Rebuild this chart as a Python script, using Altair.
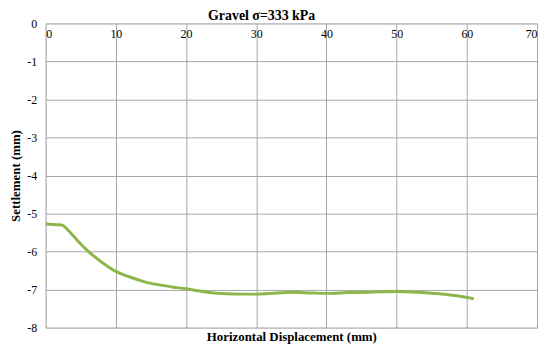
import altair as alt
import pandas as pd

# Horizontal displacement (mm) and settlement (mm)
displacement = [0, 1, 2.3, 3, 4, 5, 6, 7, 8, 9, 10, 12, 14, 16, 18, 20, 22, 24, 26, 28,
                30, 32, 35, 38, 40, 43, 46, 50, 53, 56, 58, 61]
settlement = [-5.27, -5.29, -5.30, -5.40, -5.60, -5.80, -5.98, -6.14, -6.28, -6.41,
              -6.52, -6.67, -6.79, -6.87, -6.93, -6.98, -7.04, -7.09, -7.11, -7.12,
              -7.12, -7.10, -7.07, -7.09, -7.10, -7.08, -7.07, -7.05, -7.07, -7.11,
              -7.15, -7.24]
x_ticks = [0, 10, 20, 30, 40, 50, 60, 70]
y_ticks = [-8, -7, -6, -5, -4, -3, -2, -1, 0]

df = pd.DataFrame({"x": displacement, "y": settlement})

SERIF = "'Liberation Serif', 'Times New Roman', Times, 'DejaVu Serif', serif"
GRID = "#a6a6a6"
GREEN = "#8DB64A"

x_scale = alt.Scale(domain=[0, 70], nice=False, zero=False)
y_scale = alt.Scale(domain=[-8, 0], nice=False, zero=False)

y_enc = alt.Y(
    "y:Q", scale=y_scale,
    axis=alt.Axis(values=y_ticks, title="Settlement (mm)", labelExpr="'' + datum.value",
                  grid=True, gridColor=GRID, gridOpacity=1, domain=False, ticks=False,
                  labelPadding=9, titlePadding=4, labelFont=SERIF, labelFontSize=12,
                  labelColor="black", titleFont=SERIF, titleFontSize=13,
                  titleFontWeight="bold", titleColor="black"),
)

line = alt.Chart(df).mark_line(color=GREEN, strokeWidth=3, interpolate="monotone").encode(
    x=alt.X("x:Q", scale=x_scale,
            axis=alt.Axis(orient="top", values=x_ticks, title=None, labelBaseline="top",
                          labelPadding=-5, ticks=False, domain=False, grid=True,
                          gridColor=GRID, gridOpacity=1, labelFont=SERIF,
                          labelFontSize=12, labelColor="black",
                          minExtent=0, maxExtent=0)),
    y=y_enc,
)

bottom = alt.Chart(df).mark_point(opacity=0).encode(
    x=alt.X("x:Q", scale=x_scale,
            axis=alt.Axis(orient="bottom", labels=False, ticks=False, domain=False,
                          grid=False, title="Horizontal Displacement (mm)",
                          titlePadding=3, titleFont=SERIF, titleFontSize=13,
                          titleFontWeight="bold", titleColor="black")),
    y=y_enc,
)

chart = alt.layer(line, bottom).resolve_axis(x="independent").properties(
    width=496, height=307,
    title=alt.TitleParams("Gravel σ=333 kPa", font=SERIF, fontSize=14, fontWeight="bold",
                          anchor="middle", frame="group", dx=-30, offset=-6, color="black"),
    padding={"left": 2, "top": 0, "right": 5, "bottom": 0},
).configure_view(stroke=GRID, strokeWidth=1.5).configure(background="white")

chart.save("out.html", embed_options={"renderer": "svg", "actions": False})
